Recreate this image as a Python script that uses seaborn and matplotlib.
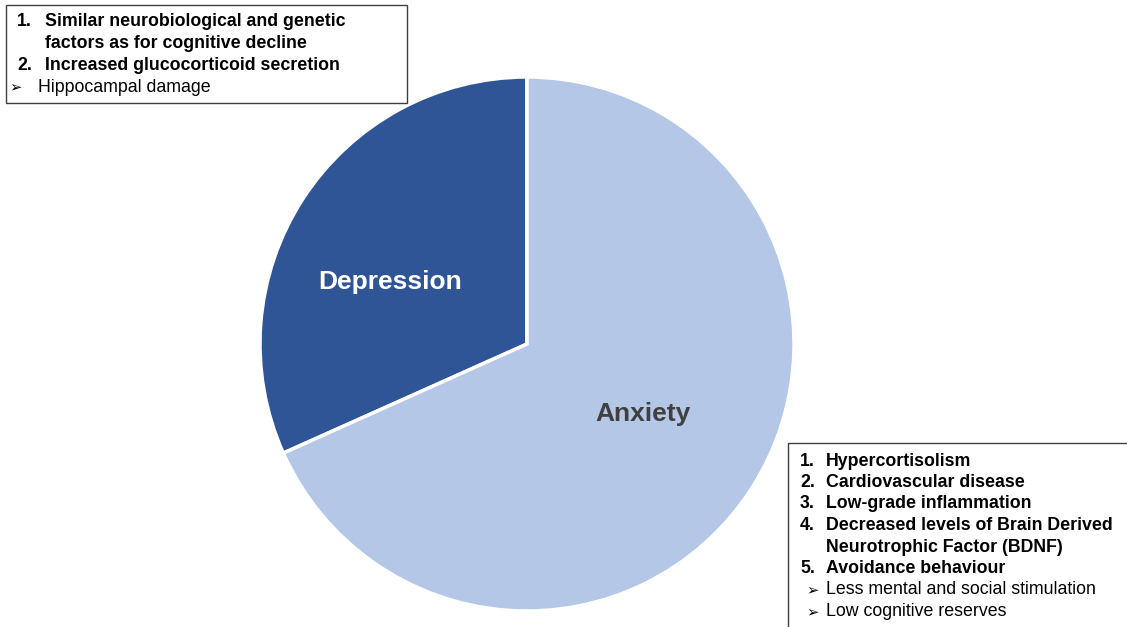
import matplotlib
matplotlib.use("Agg")
import matplotlib.pyplot as plt
from matplotlib.patches import Rectangle
import seaborn as sns

# data
categories = ["Depression", "Anxiety"]
shares = [31.7, 68.3]
slice_colors = ["#2F5597", "#B4C7E7"]
label_colors = ["white", "#404040"]

depression_items = ["Similar neurobiological and genetic\nfactors as for cognitive decline",
                    "Increased glucocorticoid secretion"]
depression_sub = ["Hippocampal damage"]

anxiety_items = ["Hypercortisolism",
                 "Cardiovascular disease",
                 "Low-grade inflammation",
                 "Decreased levels of Brain Derived\nNeurotrophic Factor (BDNF)",
                 "Avoidance behaviour"]
anxiety_sub = ["Less mental and social stimulation",
               "Low cognitive reserves"]

sns.set_theme(style="white")
plt.rcParams['font.family'] = ['Liberation Sans', 'DejaVu Sans']
plt.rcParams['text.color'] = 'black'

W, H = 1127, 627
fig = plt.figure(figsize=(W / 100, H / 100), dpi=100)


def px(x, y):
    return x / W, 1 - y / H


# pie placed by pixel centre / radius
cx, cy, r = 527, 344, 267
ax = fig.add_axes([(cx - r) / W, (H - cy - r) / H, 2 * r / W, 2 * r / H])
wedges, _ = ax.pie(shares, colors=slice_colors, startangle=90, counterclock=True,
                   wedgeprops=dict(edgecolor="white", linewidth=2.5))
ax.set_xlim(-1, 1)
ax.set_ylim(-1, 1)
ax.set_aspect("equal")
ax.axis("off")

label_pos = [(390, 282), (643, 414)]
for name, col, (lx, ly) in zip(categories, label_colors, label_pos):
    fig.text(*px(lx, ly), name, color=col, fontsize=19, fontweight="bold",
             ha="center", va="center")

FS = 12.8


def text_box(x0, y0, x1, y1, num_x, txt_x, arrow_x, arrow_txt_x, y_start, step, items, subs):
    fig.patches.append(Rectangle(px(x0, y1), (x1 - x0) / W, (y1 - y0) / H,
                                 transform=fig.transFigure, facecolor="white",
                                 edgecolor="#404040", linewidth=1.0, zorder=5))
    y = y_start
    for i, item in enumerate(items, 1):
        fig.text(*px(num_x, y), f"{i}.", fontsize=FS, fontweight="bold",
                 ha="left", va="center", zorder=6)
        for line in item.split("\n"):
            fig.text(*px(txt_x, y), line, fontsize=FS, fontweight="bold",
                     ha="left", va="center", zorder=6)
            y += step
    for s in subs:
        fig.text(*px(arrow_x, y), "\u27A2", fontsize=10.5, ha="left", va="center",
                 family=['DejaVu Sans'], zorder=6)
        fig.text(*px(arrow_txt_x, y), s, fontsize=FS, ha="left", va="center", zorder=6)
        y += step


text_box(6, 5, 407, 103, 17, 45, 9, 38, 21, 22, depression_items, depression_sub)
text_box(788, 443, 1140, 640, 800, 826, 806, 826, 461, 21.5, anxiety_items, anxiety_sub)

fig.savefig("out.png", dpi=100, facecolor="white")
